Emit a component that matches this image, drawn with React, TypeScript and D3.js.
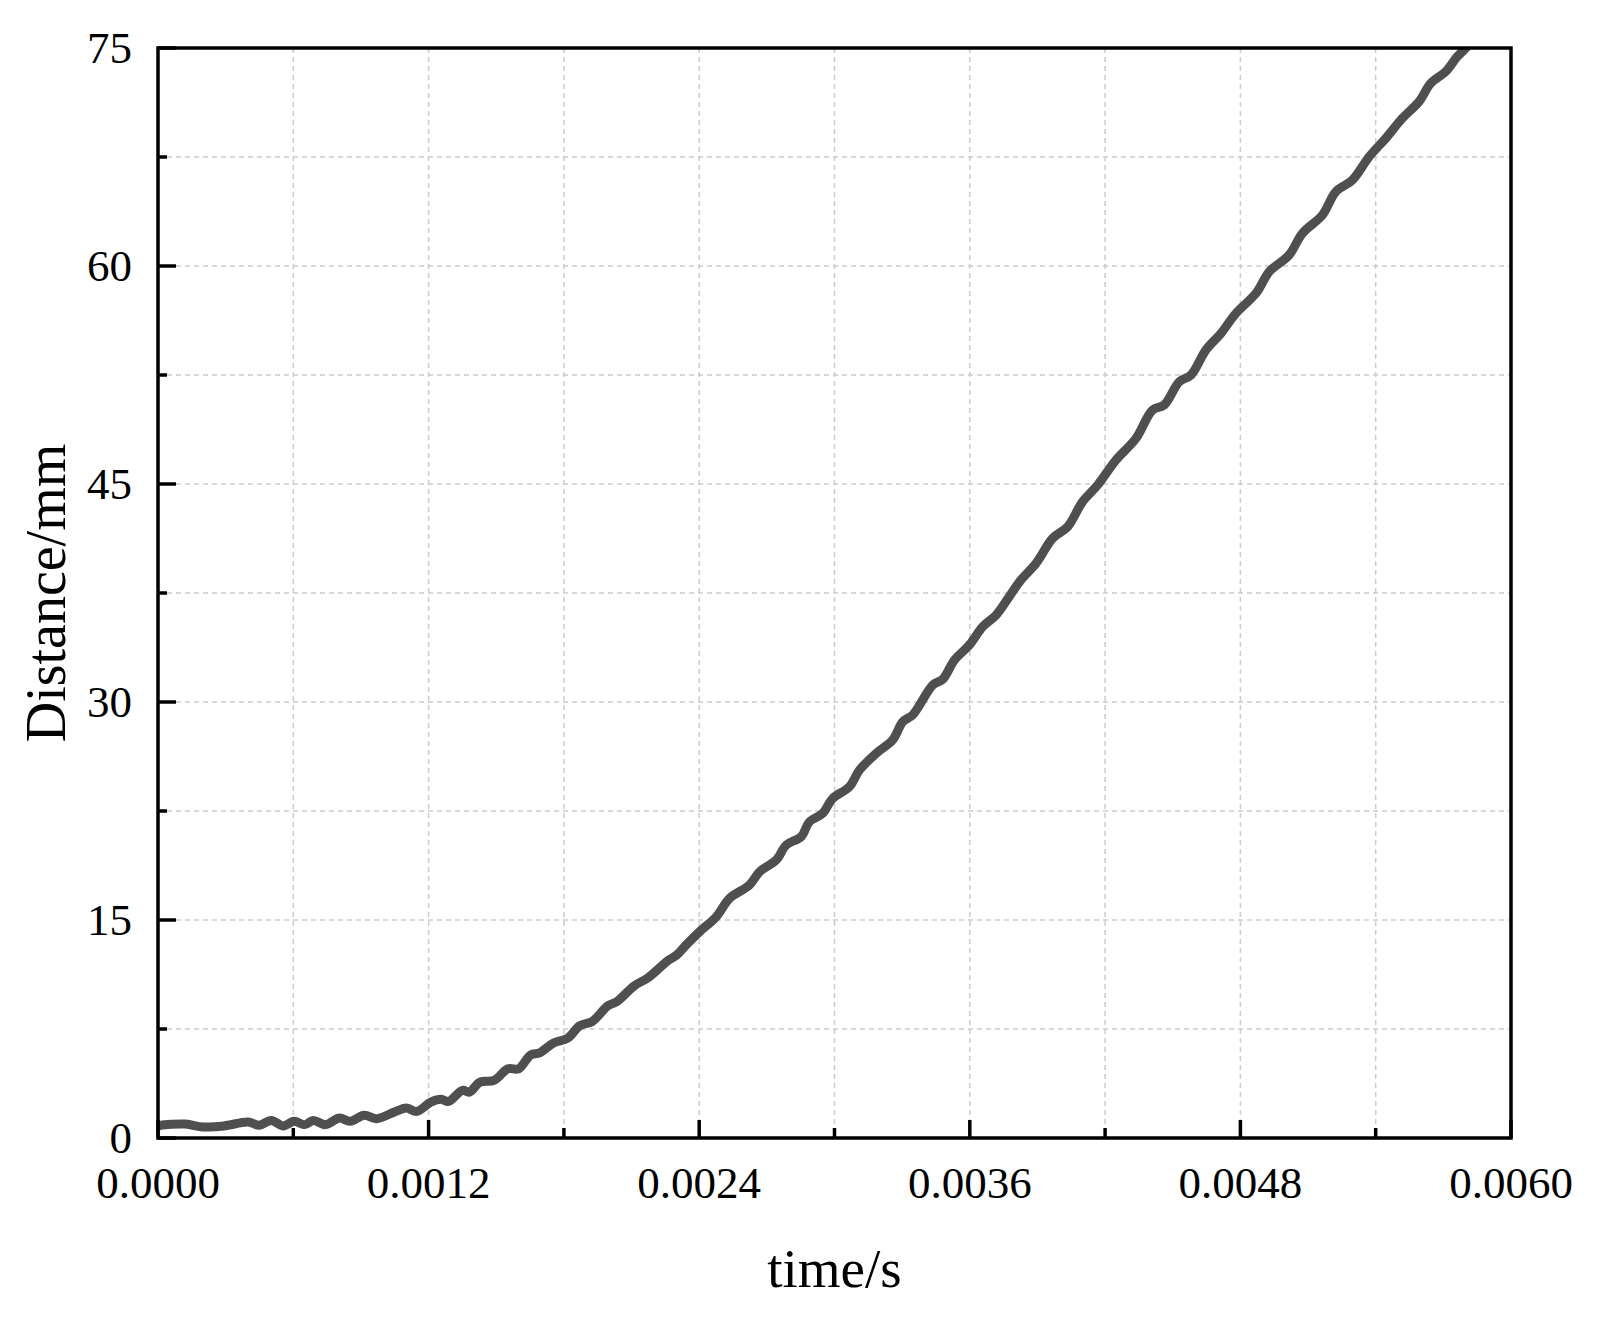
import React from "react";
import * as d3 from "d3";

const timeValues = [
  0.0, 0.0000115, 0.000121, 0.000199, 0.000292, 0.000401, 0.000448, 0.000502, 0.000556, 0.000603,
  0.00065, 0.000689, 0.000743, 0.000805, 0.000852, 0.000914, 0.000969, 0.001054, 0.001101,
  0.001148, 0.00121, 0.001256, 0.001288, 0.00135, 0.001381, 0.001428, 0.00149, 0.001552,
  0.001599, 0.001653, 0.001692, 0.001754, 0.001816, 0.001871, 0.001925, 0.001995, 0.002034,
  0.002112, 0.002174, 0.00226, 0.002299, 0.002345, 0.002402, 0.002476,
  0.002535, 0.002623, 0.002668, 0.002742, 0.002786, 0.002852, 0.002889, 0.002948, 0.002992,
  0.003066, 0.003111, 0.003185, 0.003258, 0.003303, 0.003347, 0.003436, 0.00348, 0.003532,
  0.003598, 0.003657, 0.003717, 0.003775, 0.003827, 0.003894, 0.003967, 0.004034, 0.0041,
  0.004167, 0.004248, 0.004337, 0.00441, 0.004462, 0.004529, 0.004581, 0.004647, 0.004714,
  0.00478, 0.004869, 0.004928, 0.005016, 0.005075, 0.005164, 0.005223, 0.005297, 0.005371,
  0.005445, 0.005518, 0.005592, 0.005644, 0.00571, 0.005762, 0.005806, 0.00583,
];

const distanceValues = [
  0.8, 0.87, 0.96, 0.76, 0.83, 1.1, 0.87, 1.21, 0.83, 1.15,
  0.92, 1.21, 0.92, 1.37, 1.15, 1.56, 1.33, 1.83, 2.06,
  1.83, 2.47, 2.66, 2.52, 3.28, 3.16, 3.85, 3.96, 4.76,
  4.76, 5.72, 5.86, 6.54, 6.86, 7.73, 8.01, 9.1, 9.37,
  10.47, 11.04, 12.19, 12.58, 13.33, 14.2, 15.23,
  16.49, 17.41, 18.32, 19.13, 20.16, 20.73, 21.76, 22.34, 23.37,
  24.17, 25.32, 26.47, 27.39, 28.65, 29.11, 31.17, 31.56, 32.89,
  33.92, 35.18, 35.99, 37.25, 38.4, 39.54, 41.26, 42.06, 43.78,
  44.93, 46.65, 48.14, 50.09, 50.44, 52.04, 52.5, 54.22, 55.37,
  56.74, 58.12, 59.61, 60.76, 62.25, 63.51, 65.11, 65.92, 67.52,
  68.79, 70.16, 71.31, 72.57, 73.37, 74.41, 75.09, 75.5,
];

const xMajorTicks = [0, 0.0012, 0.0024, 0.0036, 0.0048, 0.006];
const xMinorTicks = [0.0006, 0.0018, 0.003, 0.0042, 0.0054];
const yMajorTicks = [0, 15, 30, 45, 60, 75];
const yMinorTicks = [7.5, 22.5, 37.5, 52.5, 67.5];
const xLabels = ["0.0000", "0.0012", "0.0024", "0.0036", "0.0048", "0.0060"];
const yLabels = ["0", "15", "30", "45", "60", "75"];

export default function App() {
  const W = 1609;
  const H = 1320;
  const left = 158;
  const right = 1511;
  const top = 48;
  const bottom = 1138;

  const x = d3.scaleLinear().domain([0, 0.006]).range([left, right]);
  const y = d3.scaleLinear().domain([0, 75]).range([bottom, top]);

  const pts = timeValues.map((t, i) => [t, distanceValues[i]] as [number, number]);

  const line = d3
    .line<[number, number]>()
    .x((d) => x(d[0]))
    .y((d) => y(d[1]))
    .curve(d3.curveCatmullRom.alpha(0.5));

  const font = "'Liberation Serif', 'Times New Roman', serif";
  const gridTicksX = [...xMajorTicks, ...xMinorTicks].filter((t) => t > 0 && t < 0.006);
  const gridTicksY = [...yMajorTicks, ...yMinorTicks].filter((t) => t > 0 && t < 75);

  return (
    <svg
      width={W}
      height={H}
      style={{ position: "absolute", left: 0, top: 0, background: "#fff" }}
    >
      <rect x={0} y={0} width={W} height={H} fill="#fff" />
      <defs>
        <clipPath id="plotclip">
          <rect x={left} y={top} width={right - left} height={bottom - top} />
        </clipPath>
      </defs>
      {gridTicksX.map((t) => (
        <line
          key={"gx" + t}
          x1={x(t)}
          x2={x(t)}
          y1={top}
          y2={bottom}
          stroke="#cccccc"
          strokeWidth={1.5}
          strokeDasharray="5,4"
        />
      ))}
      {gridTicksY.map((v) => (
        <line
          key={"gy" + v}
          x1={left}
          x2={right}
          y1={y(v)}
          y2={y(v)}
          stroke="#cccccc"
          strokeWidth={1.5}
          strokeDasharray="5,4"
        />
      ))}
      <path
        d={line(pts) || ""}
        fill="none"
        stroke="#4f4f4f"
        strokeWidth={9}
        strokeLinejoin="round"
        strokeLinecap="round"
        clipPath="url(#plotclip)"
      />
      {xMajorTicks.map((t) => (
        <line key={"xt" + t} x1={x(t)} x2={x(t)} y1={bottom} y2={bottom - 18} stroke="#000" strokeWidth={3.5} />
      ))}
      {xMinorTicks.map((t) => (
        <line key={"xm" + t} x1={x(t)} x2={x(t)} y1={bottom} y2={bottom - 10} stroke="#000" strokeWidth={3.5} />
      ))}
      {yMajorTicks.map((v) => (
        <line key={"yt" + v} x1={left} x2={left + 18} y1={y(v)} y2={y(v)} stroke="#000" strokeWidth={3.5} />
      ))}
      {yMinorTicks.map((v) => (
        <line key={"ym" + v} x1={left} x2={left + 9} y1={y(v)} y2={y(v)} stroke="#000" strokeWidth={3.5} />
      ))}
      <rect
        x={left}
        y={top}
        width={right - left}
        height={bottom - top}
        fill="none"
        stroke="#000"
        strokeWidth={3.5}
      />
      {xMajorTicks.map((t, i) => (
        <text
          key={"xl" + t}
          x={x(t)}
          y={1198}
          textAnchor="middle"
          fontFamily={font}
          fontSize={45}
          fill="#000"
        >
          {xLabels[i]}
        </text>
      ))}
      {yMajorTicks.map((v, i) => (
        <text
          key={"yl" + v}
          x={132}
          y={y(v) + 15}
          textAnchor="end"
          fontFamily={font}
          fontSize={45}
          fill="#000"
        >
          {yLabels[i]}
        </text>
      ))}
      <text
        x={(left + right) / 2}
        y={1287}
        textAnchor="middle"
        fontFamily={font}
        fontSize={55}
        fill="#000"
      >
        time/s
      </text>
      <text
        transform={`translate(65, ${(top + bottom) / 2}) rotate(-90)`}
        textAnchor="middle"
        fontFamily={font}
        fontSize={56}
        fill="#000"
      >
        Distance/mm
      </text>
    </svg>
  );
}
